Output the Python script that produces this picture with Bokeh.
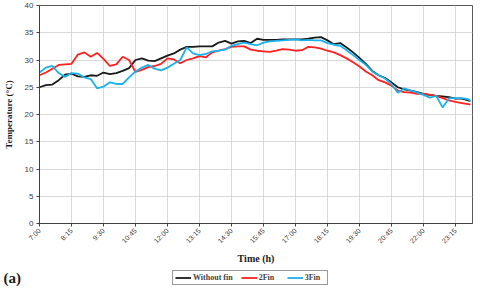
import math
from bokeh.plotting import figure
from bokeh.layouts import column
from bokeh.models import FixedTicker, Legend, LegendItem, Label, Range1d
from bokeh.embed import file_html
from bokeh.resources import INLINE

times = ["7:00", "7:15", "7:30", "7:45", "8:00", "8:15", "8:30", "8:45", "9:00", "9:15",
         "9:30", "9:45", "10:00", "10:15", "10:30", "10:45", "11:00", "11:15", "11:30", "11:45",
         "12:00", "12:15", "12:30", "12:45", "13:00", "13:15", "13:30", "13:45", "14:00", "14:15",
         "14:30", "14:45", "15:00", "15:15", "15:30", "15:45", "16:00", "16:15", "16:30", "16:45",
         "17:00", "17:15", "17:30", "17:45", "18:00", "18:15", "18:30", "18:45", "19:00", "19:15",
         "19:30", "19:45", "20:00", "20:15", "20:30", "20:45", "21:00", "21:15", "21:30", "21:45",
         "22:00", "22:15", "22:30", "22:45", "23:00", "23:15", "23:30", "23:45", "23:50"]

without_fin = [25.0, 25.4, 25.5, 26.3, 27.3, 27.5, 27.0, 26.9, 27.2, 27.1,
               27.7, 27.4, 27.6, 28.0, 28.5, 30.0, 30.3, 29.9, 29.8, 30.3,
               30.8, 31.2, 31.9, 32.4, 32.4, 32.5, 32.5, 32.5, 33.2, 33.5,
               33.0, 33.4, 33.5, 33.1, 33.9, 33.7, 33.7, 33.7, 33.8, 33.8,
               33.8, 33.8, 33.9, 34.1, 34.2, 33.6, 32.9, 33.1, 32.3, 31.4,
               30.4, 29.3, 28.0, 27.2, 26.7, 25.9, 25.0, 24.6, 24.4, 24.1,
               23.8, 23.6, 23.4, 23.3, 23.2, 22.9, 22.9, 22.6, 22.4]

fin2 = [27.2, 27.7, 28.4, 29.1, 29.2, 29.3, 31.0, 31.4, 30.6, 31.3,
        30.2, 28.9, 29.2, 30.6, 30.0, 27.8, 28.2, 28.7, 28.9, 29.3,
        30.3, 30.1, 29.4, 30.0, 30.3, 30.7, 30.5, 31.4, 31.7, 32.0,
        32.4, 32.5, 32.5, 31.9, 31.7, 31.6, 31.5, 31.7, 32.0, 31.9,
        31.7, 31.8, 32.4, 32.3, 32.1, 31.7, 31.4, 30.9, 30.3, 29.6,
        28.8, 27.9, 27.2, 26.3, 25.9, 25.3, 24.4, 24.1, 24.0, 23.8,
        23.8, 23.6, 23.4, 23.0, 22.6, 22.3, 22.1, 21.9, 21.8]

fin3 = [27.7, 28.6, 28.9, 27.6, 26.9, 27.6, 27.5, 26.8, 26.5, 24.8,
        25.1, 25.9, 25.6, 25.6, 26.8, 27.9, 28.6, 29.1, 28.4, 28.1,
        28.6, 29.3, 30.0, 32.3, 31.2, 30.9, 31.1, 31.6, 31.7, 31.9,
        32.6, 32.9, 33.2, 32.9, 32.7, 33.2, 33.4, 33.5, 33.6, 33.7,
        33.8, 33.6, 33.7, 33.6, 33.6, 33.1, 32.8, 32.6, 31.8, 30.9,
        30.0, 29.1, 27.9, 27.2, 26.6, 25.6, 24.0, 24.8, 24.4, 24.0,
        23.6, 23.1, 23.4, 21.3, 23.0, 23.0, 23.0, 22.8, 22.4]

tick_labels = ["7:00", "8:15", "9:30", "10:45", "12:00", "13:15", "14:30",
               "15:45", "17:00", "18:15", "19:30", "20:45", "22:00", "23:15"]
y_ticks = [0, 5, 10, 15, 20, 25, 30, 35, 40]
series_names = ["Without fin", "2Fin", "3Fin"]
series_colors = ["#1a1a1a", "#ff2020", "#1ab2ec"]


def to_min(s):
    h, m = s.split(":")
    return (int(h) - 7) * 60 + int(m)


x = [to_min(t) for t in times]
xt = [to_min(t) for t in tick_labels]

p = figure(width=480, height=270, output_backend="svg", toolbar_location=None,
           x_range=Range1d(0, 1015), y_range=Range1d(0, 40),
           min_border_left=36, min_border_right=8, min_border_top=5, min_border_bottom=47,
           background_fill_color="white", border_fill_color="white")

p.outline_line_color = "#595959"
p.outline_line_width = 1

p.xaxis.ticker = FixedTicker(ticks=xt)
p.xaxis.major_label_overrides = {v: l for v, l in zip(xt, tick_labels)}
p.xaxis.major_label_orientation = math.pi / 4
p.yaxis.ticker = FixedTicker(ticks=y_ticks)

for ax in (p.xaxis[0], p.yaxis[0]):
    ax.axis_line_color = "#404040"
    ax.major_tick_line_color = "#404040"
    ax.major_tick_out = 3
    ax.major_tick_in = 0
    ax.minor_tick_line_color = None
    ax.major_label_text_font = "Liberation Sans"
    ax.major_label_text_color = "#404040"
    ax.axis_label_text_font = "Liberation Serif"
    ax.axis_label_text_font_style = "bold"
    ax.axis_label_text_color = "#1a1a1a"

p.xaxis.major_label_text_font_size = "7px"
p.xaxis.major_label_standoff = 3
p.yaxis.major_label_text_font_size = "8px"
p.yaxis.major_label_standoff = 3

p.xaxis.axis_label = "Time (h)"
p.xaxis.axis_label_text_font_size = "10px"
p.xaxis.axis_label_standoff = 3
p.yaxis.axis_label = "Temperature (°C)"
p.yaxis.axis_label_text_font_size = "9px"
p.yaxis.axis_label_standoff = 8

p.xgrid.grid_line_color = "#d9d9d9"
p.ygrid.grid_line_color = "#d9d9d9"

for ys, c in zip([without_fin, fin2, fin3], series_colors):
    p.line(x, ys, line_color=c, line_width=1.8)

# bottom strip with "(a)" and the legend
s = figure(width=480, height=18, output_backend="svg", toolbar_location=None,
           x_range=Range1d(0, 480), y_range=Range1d(0, 18),
           x_axis_type=None, y_axis_type=None, min_border=0, frame_align=False,
           background_fill_color="white", border_fill_color="white")
s.outline_line_color = None
s.xgrid.visible = False
s.ygrid.visible = False

# legend-only renderers: their points lie outside the strip's visible range
dummies = []
for c in series_colors:
    dummies.append(s.line([-50, -40], [-50, -50], line_color=c, line_width=1.8))

legend = Legend(items=[LegendItem(label=n, renderers=[r]) for n, r in zip(series_names, dummies)],
                location=(172, 3), orientation="horizontal",
                label_text_font="Liberation Serif", label_text_font_style="bold",
                label_text_font_size="8px", label_height=7, label_standoff=2,
                glyph_width=16, glyph_height=7, spacing=8, padding=2, margin=0,
                border_line_color="#333333", border_line_width=1,
                background_fill_color="white", background_fill_alpha=1)
s.add_layout(legend, "center")

lab = Label(x=3, y=3, x_units="screen", y_units="screen", text="(a)",
            text_font="Liberation Serif", text_font_style="bold", text_font_size="15px",
            text_color="#1a1a1a")
s.add_layout(lab)

layout = column(p, s, spacing=0)
open("out.html", "w").write(file_html(layout, INLINE))
